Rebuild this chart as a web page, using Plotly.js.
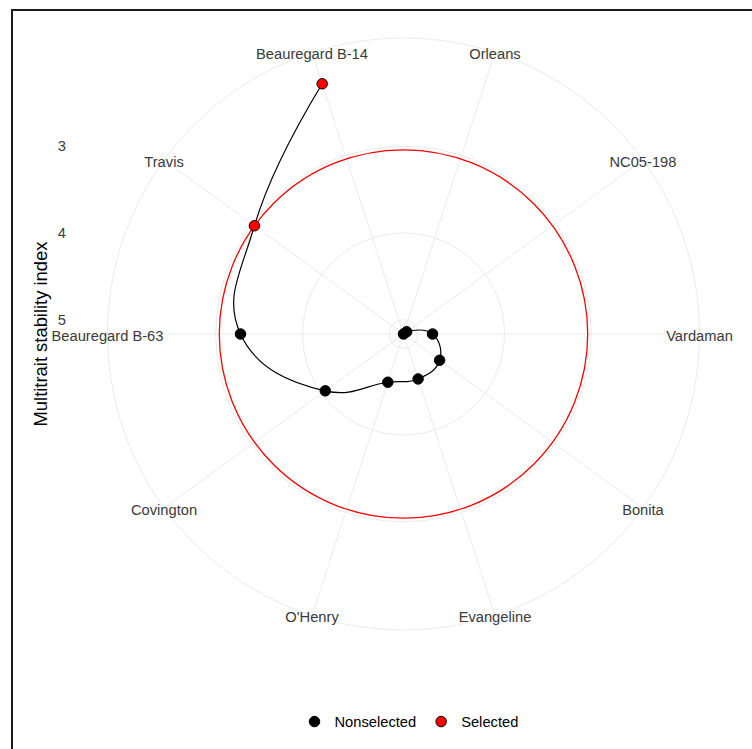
<!DOCTYPE html>
<html>
<head>
<meta charset="utf-8">
<script src="https://cdn.plot.ly/plotly-3.0.1.min.js"></script>
<style>html,body{margin:0;padding:0;background:#fff;}#chart{width:752px;height:749px;}</style>
</head>
<body>
<div id="chart"></div>
<script>
// Genotypes in plotting order (clockwise from top), MTSI values, selection status
var genotypes = ["Orleans", "NC05-198", "Vardaman", "Bonita", "Evangeline", "O'Henry", "Covington", "Beauregard B-63", "Travis", "Beauregard B-14"];
var mtsi = [5.165, 5.12, 4.83, 4.65, 4.62, 4.58, 4.05, 3.285, 3.04, 2.13];
var selection = ["Nonselected", "Nonselected", "Nonselected", "Nonselected", "Nonselected", "Nonselected", "Nonselected", "Nonselected", "Selected", "Selected"];
var cutpoint = 3.04;
var radialTicks = [3, 4, 5];
var radialTickLabels = ["3", "4", "5"];

var W = 752, H = 749;
var cx = 403.5, cy = 334, R = 296;
var rMax = Math.max.apply(null, mtsi);
var rMin = Math.min.apply(null, mtsi);
// ggplot coord_polar: data range fills 0.4 of panel, outer ring at 0.45
var rOuter = rMax - (rMax - rMin) / 0.4 * 0.45;

var dom = {
  x: [(cx - R) / W, (cx + R) / W],
  y: [(H - cy - R) / H, (H - cy + R) / H]
};
var labelShift = 3; // px, labels sit slightly below the ring as in ggplot
var domLab = {
  x: dom.x,
  y: [(H - cy - labelShift - R) / H, (H - cy - labelShift + R) / H]
};

var grid = '#EBEBEB';
var fontFam = 'Liberation Sans, Arial, sans-serif';

function pick(arr, key) {
  var out = [];
  for (var i = 0; i < arr.length; i++) if (selection[i] === key) out.push(arr[i]);
  return out;
}

var traces = [
  {
    type: 'scatterpolar', subplot: 'polar', mode: 'markers',
    theta: [null], r: [null], showlegend: false, hoverinfo: 'skip'
  },
  {
    type: 'scatterpolar', subplot: 'polar2', mode: 'lines',
    theta: genotypes, r: mtsi,
    line: {color: 'black', width: 1.2, shape: 'spline', smoothing: 1.3},
    showlegend: false, hoverinfo: 'skip'
  },
  {
    type: 'scatterpolar', subplot: 'polar2', mode: 'markers', name: 'Nonselected',
    theta: pick(genotypes, 'Nonselected'), r: pick(mtsi, 'Nonselected'),
    marker: {color: 'black', size: 10.5, line: {color: 'black', width: 1}},
    cliponaxis: false
  },
  {
    type: 'scatterpolar', subplot: 'polar2', mode: 'markers', name: 'Selected',
    theta: pick(genotypes, 'Selected'), r: pick(mtsi, 'Selected'),
    marker: {color: 'red', size: 10.5, line: {color: 'black', width: 1}},
    cliponaxis: false
  },
  {
    type: 'scatterpolar', subplot: 'polar3', mode: 'text',
    theta: genotypes, r: genotypes.map(function () { return rOuter; }),
    text: genotypes, textposition: 'middle center',
    textfont: {family: fontFam, size: 14.7, color: '#3a3a3a'},
    showlegend: false, hoverinfo: 'skip', cliponaxis: false
  },
  {
    type: 'scatter', x: [null], y: [null], xaxis: 'x', yaxis: 'y',
    showlegend: false, hoverinfo: 'skip', mode: 'markers'
  }
];

var angularCommon = {
  type: 'category', categoryorder: 'array', categoryarray: genotypes,
  rotation: 72, direction: 'clockwise', showticklabels: false, ticks: ''
};
var hiddenRadial = {range: [rMax, rOuter], showticklabels: false, ticks: '', showline: false, showgrid: false};

var layout = {
  width: W, height: H,
  margin: {l: 0, r: 0, t: 0, b: 0},
  paper_bgcolor: 'white', plot_bgcolor: 'rgba(0,0,0,0)',
  font: {family: fontFam, size: 14.7, color: 'black'},
  polar: {
    domain: dom, bgcolor: 'white',
    radialaxis: {range: [rMax, rOuter], tickvals: radialTicks, showticklabels: false, ticks: '',
      showline: false, gridcolor: grid, gridwidth: 1},
    angularaxis: Object.assign({}, angularCommon, {showgrid: true, gridcolor: grid, gridwidth: 1,
      showline: true, linecolor: grid, linewidth: 1})
  },
  polar2: {
    domain: dom, bgcolor: 'rgba(0,0,0,0)',
    radialaxis: {range: [rMax, rOuter], tickvals: [cutpoint], showticklabels: false, ticks: '',
      showline: false, gridcolor: 'red', gridwidth: 1.3},
    angularaxis: Object.assign({}, angularCommon, {showgrid: false, showline: false})
  },
  polar3: {
    domain: domLab, bgcolor: 'rgba(0,0,0,0)',
    radialaxis: hiddenRadial,
    angularaxis: Object.assign({}, angularCommon, {showgrid: false, showline: false})
  },
  xaxis: {domain: dom.x, visible: false, range: [0, 1]},
  yaxis: {
    domain: dom.y, anchor: 'free', position: 66 / W, side: 'left',
    range: [rMax + (rMax - rOuter), rOuter],
    tickvals: radialTicks, ticktext: radialTickLabels, ticks: '',
    showgrid: false, zeroline: false, showline: false,
    tickfont: {family: fontFam, size: 14.7, color: '#3a3a3a'},
    title: {text: 'Multitrait stability index', font: {family: fontFam, size: 18.4, color: 'black'}, standoff: 4}
  },
  legend: {
    orientation: 'h', x: 409 / W, xanchor: 'center', y: (H - 722) / H, yanchor: 'middle',
    font: {family: fontFam, size: 14.7, color: 'black'}, bgcolor: 'rgba(0,0,0,0)'
  },
  shapes: [{
    type: 'rect', xref: 'paper', yref: 'paper',
    x0: 12 / W, x1: 1.05, y0: -0.05, y1: (H - 10) / H,
    line: {color: '#1a1a1a', width: 2}
  }],
  showlegend: true
};

Plotly.newPlot('chart', traces, layout, {displayModeBar: false, staticPlot: true});
</script>
</body>
</html>
